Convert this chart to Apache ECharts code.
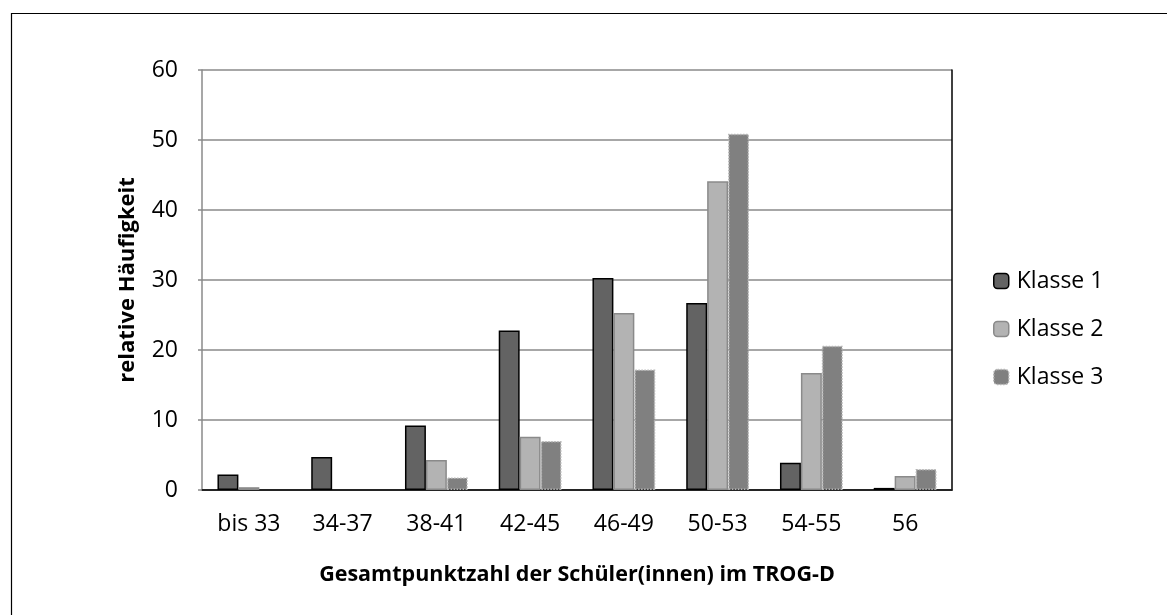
<!DOCTYPE html>
<html>
<head>
<meta charset="utf-8">
<script src="https://cdn.jsdelivr.net/npm/echarts@6/dist/echarts.min.js"></script>
<style>
html,body{margin:0;padding:0;background:#fff;}
#chart{width:1167px;height:615px;}
</style>
</head>
<body>
<div id="chart"></div>
<script>
const categories = ['bis 33', '34-37', '38-41', '42-45', '46-49', '50-53', '54-55', '56'];
const klasse1 = [2.2, 4.7, 9.2, 22.8, 30.3, 26.7, 3.9, 0.3];
const klasse2 = [0.4, 0, 4.3, 7.6, 25.3, 44.1, 16.7, 2.0];
const klasse3 = [0, 0, 1.8, 7.0, 17.2, 50.9, 20.6, 3.0];
const yTicks = [0, 10, 20, 30, 40, 50, 60];
const seriesNames = ['Klasse 1', 'Klasse 2', 'Klasse 3'];
const xTitle = 'Gesamtpunktzahl der Schüler(innen) im TROG-D';
const yTitle = 'relative Häufigkeit';

const FONT = 'Open Sans';
const chart = echarts.init(document.getElementById('chart'), null, {renderer: 'canvas'});

const barStyles = [
  {color: '#636363', borderColor: '#000000', borderWidth: 1.5},
  {color: '#b3b3b3', borderColor: '#8a8a8a', borderWidth: 1.5},
  {color: '#808080', borderColor: '#b5b5b5', borderWidth: 1.5, borderType: 'dotted'}
];
const data = [klasse1, klasse2, klasse3];

chart.setOption({
  animation: false,
  backgroundColor: '#ffffff',
  textStyle: {fontFamily: FONT},
  graphic: [{
    type: 'rect', left: 9, top: 11, z: -10,
    shape: {width: 1300, height: 700},
    style: {fill: 'none', stroke: '#000', lineWidth: 1.2}
  }],
  legend: {
    orient: 'vertical', left: 988, top: 263,
    itemWidth: 15, itemHeight: 15, itemGap: 22,
    textStyle: {fontFamily: FONT, fontSize: 23, color: '#000', lineHeight: 26, padding: [0, 0, 0, 3]},
    data: seriesNames.map((n, i) => ({name: n, itemStyle: barStyles[i]}))
  },
  grid: {left: 202, top: 70, width: 750, height: 420, containLabel: false},
  xAxis: [{
    type: 'category', data: categories, position: 'bottom',
    name: xTitle, nameLocation: 'middle', nameGap: 74,
    nameTextStyle: {fontFamily: FONT, fontWeight: 'bold', fontSize: 21.5, color: '#000'},
    axisLine: {lineStyle: {color: '#8a8a8a', width: 1.5}},
    axisTick: {show: false},
    axisLabel: {fontFamily: FONT, fontSize: 23, color: '#000', margin: 23}
  }, {
    type: 'category', data: categories, position: 'top',
    axisLine: {lineStyle: {color: '#000', width: 1.5}},
    axisTick: {show: false}, axisLabel: {show: false}
  }],
  yAxis: [{
    type: 'value', min: yTicks[0], max: yTicks[yTicks.length - 1], interval: 10,
    name: yTitle, nameLocation: 'middle', nameGap: 63, nameRotate: 90,
    nameTextStyle: {fontFamily: FONT, fontWeight: 'bold', fontSize: 22, color: '#000'},
    axisLine: {show: true, lineStyle: {color: '#8a8a8a', width: 1.5}},
    axisTick: {show: true, length: 4, lineStyle: {color: '#8a8a8a', width: 1.5}},
    axisLabel: {fontFamily: FONT, fontSize: 23, color: '#000', margin: 24},
    splitLine: {show: true, lineStyle: {color: '#8a8a8a', width: 1.5}}
  }, {
    type: 'value', min: yTicks[0], max: yTicks[yTicks.length - 1], interval: 10, position: 'right',
    axisLine: {show: true, lineStyle: {color: '#000', width: 1.5}},
    axisTick: {show: false}, axisLabel: {show: false}, splitLine: {show: false}
  }],
  series: seriesNames.map((n, i) => ({
    name: n, type: 'bar',
    data: data[i].map(v => (v === 0 ? '-' : v)),
    xAxisIndex: 0, yAxisIndex: 0,
    barGap: '0%', barCategoryGap: '33%',
    itemStyle: barStyles[i]
  }))
});
</script>
</body>
</html>
